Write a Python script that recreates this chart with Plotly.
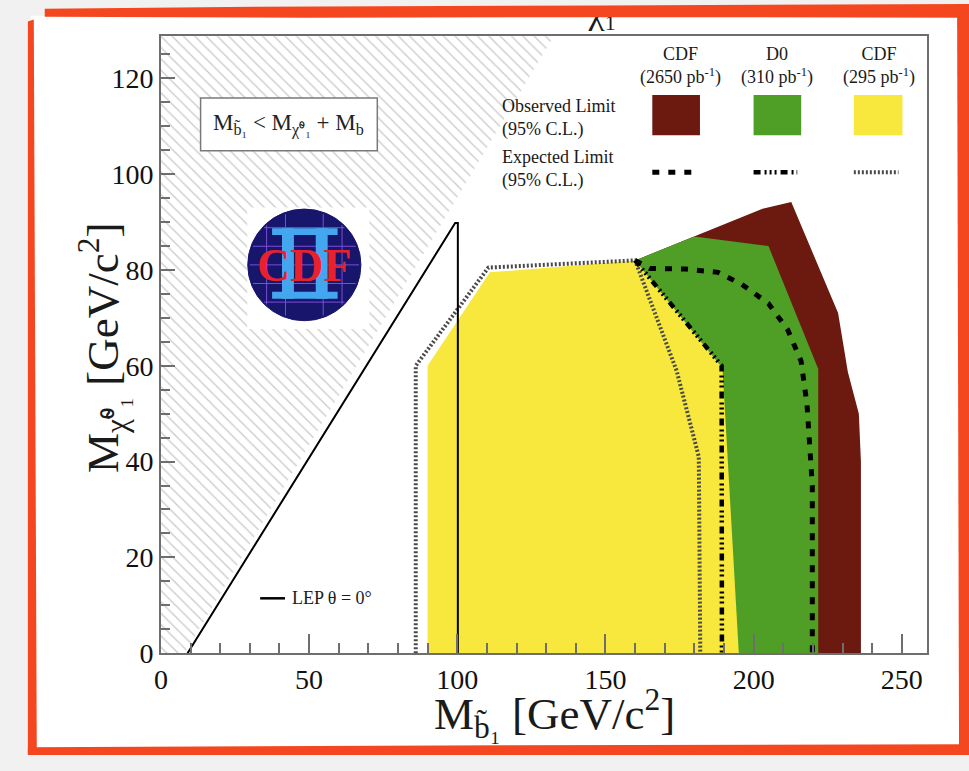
import math
import plotly.graph_objects as go

W, H = 969, 771
FONT = "Liberation Serif"
INK = "#1a1a1a"

# ---- exclusion contours: M(sbottom) [GeV/c^2] vs M(neutralino) [GeV/c^2] ----
# kinematically forbidden region M_b1 < M_chi + M_b (hatched)
kin_x = [0, 8, 133.7, 0]
kin_y = [0, 0, 130, 130]

# LEP theta = 0 deg limit
lep_x = [9, 99.3, 100.2, 100.2]
lep_y = [0, 89.8, 89.8, 0]

# observed limits (95% C.L.)
cdf2650_obs_x = [160, 180, 203, 212.7, 228.5, 231.8, 235.5, 236.2, 236.2, 160]
cdf2650_obs_y = [82, 87, 92.8, 94.2, 71, 58.7, 50, 40, 0, 0]

d0_obs_x = [160, 180, 205, 221.8, 221.8, 185]
d0_obs_y = [82, 87, 85, 59.3, 0, 0]

cdf295_obs_x = [90, 90, 111, 160, 189.5, 195]
cdf295_obs_y = [0, 60, 79.5, 82, 59.5, 0]

# expected limits (95% C.L.)
cdf2650_exp_x = [160, 165, 177, 188, 196, 205, 211.5, 216, 218, 219.8, 219.8]
cdf2650_exp_y = [82, 80.3, 80.2, 79.5, 77, 73, 67.5, 61, 52, 35, 0]

d0_exp_x = [160, 189.2, 189.3]
d0_exp_y = [82, 60, 0]

cdf295_exp_x = [86, 86, 110.5, 160, 174, 181.5, 182]
cdf295_exp_y = [0, 60, 80.5, 82, 59, 41, 0]

x_ticks = [0, 50, 100, 150, 200, 250]
y_ticks = [0, 20, 40, 60, 80, 100, 120]

BROWN, GREEN, YELLOW = "#6c190f", "#4f9f27", "#f8e73c"
DASH_CDF2650 = "7px,9px"
DASH_D0 = "7px,4px,2px,3px,2px,3px,2px,4px"
DASH_CDF295 = "2px,2px"


def fx(px):
    return px / W


def fy(py):
    return 1 - py / H


fig = go.Figure()

fig.add_trace(go.Scatter(
    x=kin_x, y=kin_y, fill="toself", mode="lines", line=dict(width=0),
    fillcolor="white",
    fillpattern=dict(shape="\\", size=8, solidity=0.17, fgcolor="#999999", bgcolor="white"),
    hoverinfo="skip", showlegend=False))

for xs, ys, col in [(cdf2650_obs_x, cdf2650_obs_y, BROWN),
                    (d0_obs_x, d0_obs_y, GREEN),
                    (cdf295_obs_x, cdf295_obs_y, YELLOW)]:
    fig.add_trace(go.Scatter(x=xs, y=ys, fill="toself", fillcolor=col, mode="lines",
                             line=dict(width=0, color=col), hoverinfo="skip", showlegend=False))

fig.add_trace(go.Scatter(x=cdf295_exp_x, y=cdf295_exp_y, mode="lines",
                         line=dict(color="#4a4a4a", width=4, dash=DASH_CDF295), showlegend=False))
fig.add_trace(go.Scatter(x=d0_exp_x, y=d0_exp_y, mode="lines",
                         line=dict(color="black", width=4.5, dash=DASH_D0), showlegend=False))
fig.add_trace(go.Scatter(x=cdf2650_exp_x, y=cdf2650_exp_y, mode="lines",
                         line=dict(color="black", width=5, dash=DASH_CDF2650), showlegend=False))
fig.add_trace(go.Scatter(x=lep_x, y=lep_y, mode="lines",
                         line=dict(color="black", width=2), showlegend=False))

# partially hidden heading above the frame
fig.add_trace(go.Scatter(x=[0.5], y=[0.73], mode="text", text=["χ̃₁"],
                         textfont=dict(family=FONT, size=36, color=INK),
                         xaxis="x2", yaxis="y2", showlegend=False, hoverinfo="skip"))

axis_common = dict(showline=True, linecolor="#6e6e6e", linewidth=1.5, mirror=True,
                   ticks="inside", tickwidth=1.5, tickcolor="#6e6e6e",
                   showgrid=False, zeroline=False,
                   tickfont=dict(family=FONT, size=28, color="#111111"))

fig.update_layout(
    width=W, height=H,
    margin=dict(l=0, r=0, t=0, b=0),
    paper_bgcolor="#f1f1f1", plot_bgcolor="white",
    xaxis=dict(domain=[fx(155), fx(927)], range=[0, 258.6], tickvals=x_ticks, ticklen=19,
               minor=dict(ticks="inside", dtick=10, ticklen=10, tickwidth=1.5, tickcolor="#6e6e6e"),
               **axis_common),
    yaxis=dict(domain=[fy(667), fy(37)], range=[0, 128.8], tickvals=y_ticks, ticklen=14,
               minor=dict(ticks="inside", dtick=5, ticklen=9, tickwidth=1.5, tickcolor="#6e6e6e"),
               **axis_common),
    xaxis2=dict(domain=[fx(540), fx(660)], range=[0, 1], visible=False, anchor="y2"),
    yaxis2=dict(domain=[fy(36), fy(6)], range=[0, 1], visible=False, anchor="x2"),
)

shapes = []
annotations = []

# white sheet and hand-drawn red frame
shapes.append(dict(type="rect", xref="paper", yref="paper", x0=fx(24), x1=fx(962),
                   y0=fy(765), y1=fy(16), fillcolor="white", line=dict(width=0), layer="below"))


def poly(points, color):
    d = "M " + " L ".join(f"{fx(a):.5f},{fy(b):.5f}" for a, b in points) + " Z"
    return dict(type="path", xref="paper", yref="paper", path=d, fillcolor=color,
                line=dict(width=0), layer="above")


RED = "#f4471f"
shapes.append(poly([(38, 9), (250, 7), (600, 5.5), (969, 4), (969, 18), (600, 17.5),
                    (300, 18), (38, 17)], RED))
shapes.append(poly([(21, 22), (27, 20), (30, 771), (21, 771)], RED))
shapes.append(poly([(21, 763), (500, 761), (969, 760), (969, 771), (21, 771)], RED))
shapes.append(poly([(957, 4), (969, 4), (969, 771), (959, 771)], RED))

# formula box
shapes.append(dict(type="rect", xref="paper", yref="paper", x0=fx(195), x1=fx(373),
                   y0=fy(154), y1=fy(100), fillcolor="white",
                   line=dict(color="#7a7a7a", width=1.5), layer="above"))
annotations.append(dict(x=fx(284), y=fy(127), xref="paper", yref="paper", showarrow=False,
                        text="M<sub>b̃₁</sub> &lt; M<sub>χ̃⁰₁</sub> + M<sub>b</sub>",
                        font=dict(family=FONT, size=23, color="#222"),
                        xanchor="center", yanchor="middle"))

# experiment logo
shapes.append(dict(type="rect", xref="paper", yref="paper", x0=fx(242), x1=fx(365),
                   y0=fy(336), y1=fy(212), fillcolor="white", line=dict(width=0), layer="above"))
cx, cy, r = 299.5, 270.5, 57
shapes.append(dict(type="circle", xref="paper", yref="paper", x0=fx(cx - r), x1=fx(cx + r),
                   y0=fy(cy + r), y1=fy(cy - r), fillcolor="#17156c",
                   line=dict(color="#17156c", width=1), layer="above"))
for off in (-38, -19, 0, 19, 38):
    half = math.sqrt(r * r - off * off) - 2
    shapes.append(dict(type="line", xref="paper", yref="paper",
                       x0=fx(cx - half), x1=fx(cx + half), y0=fy(cy + off), y1=fy(cy + off),
                       line=dict(color="#7b4fd8", width=1), layer="above"))
    if off != 0:
        shapes.append(dict(type="line", xref="paper", yref="paper",
                           x0=fx(cx + off), x1=fx(cx + off), y0=fy(cy - half), y1=fy(cy + half),
                           line=dict(color="#7b4fd8", width=1), layer="above"))
for (a, b, c, d) in [(267, 233, 333, 240), (267, 298, 333, 305),
                     (277, 233, 289, 305), (311, 233, 323, 305)]:
    shapes.append(dict(type="rect", xref="paper", yref="paper", x0=fx(a), x1=fx(c),
                       y0=fy(d), y1=fy(b), fillcolor="#43a6ef", line=dict(width=0), layer="above"))
annotations.append(dict(x=fx(300), y=fy(271), xref="paper", yref="paper", showarrow=False,
                        text="<b>CDF</b>", font=dict(family=FONT, size=46, color="#e8212f"),
                        xanchor="center", yanchor="middle"))

# legend block
legend_cols = [(678, "CDF<br>(2650 pb<sup>-1</sup>)", BROWN, 650, 698, DASH_CDF2650, 5, "black"),
               (776, "D0<br>(310 pb<sup>-1</sup>)", GREEN, 752, 800, DASH_D0, 4.5, "black"),
               (878, "CDF<br>(295 pb<sup>-1</sup>)", YELLOW, 853, 902, DASH_CDF295, 4, "#4a4a4a")]
for cxl, head, col, a, b, dash, lw, lc in legend_cols:
    annotations.append(dict(x=fx(cxl), y=fy(67), xref="paper", yref="paper", showarrow=False,
                            text=head, font=dict(family=FONT, size=18, color=INK),
                            xanchor="center", yanchor="middle"))
    shapes.append(dict(type="rect", xref="paper", yref="paper", x0=fx(a), x1=fx(b),
                       y0=fy(138), y1=fy(97), fillcolor=col, line=dict(width=0), layer="above"))
    shapes.append(dict(type="line", xref="paper", yref="paper", x0=fx(a), x1=fx(b - 4),
                       y0=fy(176), y1=fy(176), line=dict(color=lc, width=lw, dash=dash),
                       layer="above"))

for text, py in [("Observed Limit<br>(95% C.L.)", 121), ("Expected Limit<br>(95% C.L.)", 173)]:
    annotations.append(dict(x=fx(497), y=fy(py), xref="paper", yref="paper", showarrow=False,
                            text=text, align="left", font=dict(family=FONT, size=18, color=INK),
                            xanchor="left", yanchor="middle"))

# LEP key
shapes.append(dict(type="line", xref="paper", yref="paper", x0=fx(255), x1=fx(280),
                   y0=fy(611), y1=fy(611), line=dict(color="black", width=2.5), layer="above"))
annotations.append(dict(x=fx(285), y=fy(611), xref="paper", yref="paper", showarrow=False,
                        text="LEP θ = 0°", font=dict(family=FONT, size=18, color=INK),
                        xanchor="left", yanchor="middle"))

# axis titles
annotations.append(dict(x=fx(551), y=fy(729), xref="paper", yref="paper", showarrow=False,
                        text="M<sub>b̃₁</sub> [GeV/c<sup>2</sup>]",
                        font=dict(family=FONT, size=45, color=INK),
                        xanchor="center", yanchor="middle"))
annotations.append(dict(x=fx(96), y=fy(355), xref="paper", yref="paper", showarrow=False,
                        text="M<sub>χ̃⁰₁</sub> [GeV/c<sup>2</sup>]", textangle=-90,
                        font=dict(family=FONT, size=45, color=INK),
                        xanchor="center", yanchor="middle"))

fig.update_layout(shapes=shapes, annotations=annotations)
fig.write_html("out.html")
